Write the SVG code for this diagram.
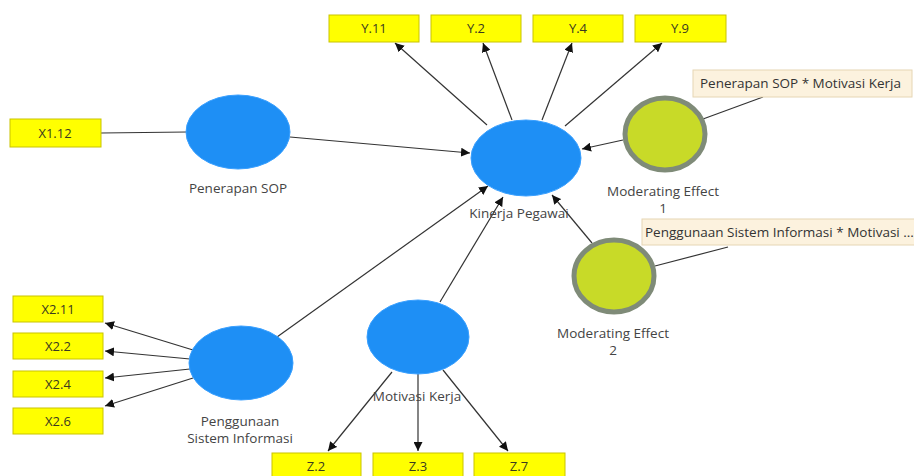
<svg xmlns="http://www.w3.org/2000/svg" width="914" height="476" viewBox="0 0 914 476">
<style>
.box{fill:#ffff00;stroke:#c9c400;stroke-width:1}
.bt{font-family:"Open Sans","Noto Sans",sans-serif;font-size:13px;fill:#3a3a20;text-anchor:middle}
.lv{fill:#1e8ff5;stroke:#3aa0ff;stroke-width:1}
.me{fill:#c8da28;stroke:#7f8b78;stroke-width:5}
.lb{font-family:"Open Sans","Noto Sans",sans-serif;font-size:13.5px;fill:#444;text-anchor:middle}
.tip{fill:#fcf2de;stroke:#e6d6b4;stroke-width:1}
.tt{font-family:"Open Sans","Noto Sans",sans-serif;font-size:13.5px;fill:#333}
.c{stroke:#333;stroke-width:1.2;fill:none}
.ca{stroke:#333;stroke-width:1.2;fill:none;marker-end:url(#ah)}
</style>
<defs>
<marker id="ah" viewBox="0 0 10 10" refX="10" refY="5" markerWidth="9" markerHeight="9" markerUnits="userSpaceOnUse" orient="auto">
<path d="M0,0 L10,5 L0,10 z" fill="#111"/>
</marker>
</defs>
<rect width="914" height="476" fill="#fff"/>
<g id="connectors">
<line class="c" x1="101" y1="133" x2="187" y2="132"/>
<line class="ca" x1="290" y1="137" x2="470" y2="153"/>
<line class="ca" x1="487" y1="125" x2="395" y2="43"/>
<line class="ca" x1="512" y1="120" x2="483" y2="43"/>
<line class="ca" x1="542" y1="120" x2="572" y2="43"/>
<line class="ca" x1="565" y1="126" x2="662" y2="43"/>
<line class="ca" x1="623" y1="140" x2="582" y2="149"/>
<line class="ca" x1="592" y1="243" x2="552" y2="195"/>
<line class="ca" x1="277" y1="337" x2="488" y2="186"/>
<line class="ca" x1="440" y1="302" x2="503" y2="197"/>
<line class="ca" x1="193" y1="350" x2="105" y2="323"/>
<line class="ca" x1="190" y1="359" x2="105" y2="351"/>
<line class="ca" x1="190" y1="369" x2="105" y2="378"/>
<line class="ca" x1="193" y1="378" x2="105" y2="406"/>
<line class="ca" x1="392" y1="372" x2="328" y2="451"/>
<line class="ca" x1="418" y1="374" x2="418" y2="451"/>
<line class="ca" x1="443" y1="370" x2="508" y2="451"/>
<line class="c" x1="763" y1="97" x2="703" y2="119"/>
<line class="c" x1="728" y1="247" x2="655" y2="266"/>
</g>
<g id="Y11"><rect class="box" x="329" y="15" width="90" height="27"/><text class="bt" x="374" y="33">Y.11</text></g>
<g id="Y2"><rect class="box" x="431" y="15" width="90" height="27"/><text class="bt" x="476" y="33">Y.2</text></g>
<g id="Y4"><rect class="box" x="533" y="15" width="90" height="27"/><text class="bt" x="578" y="33">Y.4</text></g>
<g id="Y9"><rect class="box" x="635" y="15" width="91" height="27"/><text class="bt" x="680" y="33">Y.9</text></g>
<g id="X112"><rect class="box" x="10" y="119" width="91" height="28"/><text class="bt" x="55" y="138">X1.12</text></g>
<g id="X211"><rect class="box" x="13" y="296" width="90" height="26"/><text class="bt" x="58" y="314">X2.11</text></g>
<g id="X22"><rect class="box" x="13" y="333" width="90" height="26"/><text class="bt" x="58" y="351">X2.2</text></g>
<g id="X24"><rect class="box" x="13" y="371" width="90" height="26"/><text class="bt" x="58" y="389">X2.4</text></g>
<g id="X26"><rect class="box" x="13" y="408" width="90" height="26"/><text class="bt" x="58" y="426">X2.6</text></g>
<g id="Z2"><rect class="box" x="272" y="453" width="89" height="30"/><text class="bt" x="316" y="471">Z.2</text></g>
<g id="Z3"><rect class="box" x="373" y="453" width="90" height="30"/><text class="bt" x="418" y="471">Z.3</text></g>
<g id="Z7"><rect class="box" x="474" y="453" width="91" height="30"/><text class="bt" x="519" y="471">Z.7</text></g>
<g id="PenerapanSOP"><ellipse class="lv" cx="238" cy="132" rx="52" ry="37"/><text class="lb" x="238" y="193">Penerapan SOP</text></g>
<g id="KinerjaPegawai"><ellipse class="lv" cx="526" cy="158" rx="55" ry="38"/><text class="lb" x="519" y="218">Kinerja Pegawai</text></g>
<g id="PenggunaanSI"><ellipse class="lv" cx="241" cy="363" rx="52" ry="37"/><text class="lb" x="240" y="426">Penggunaan</text><text class="lb" x="240" y="443">Sistem Informasi</text></g>
<g id="MotivasiKerja"><ellipse class="lv" cx="418" cy="337" rx="51" ry="37"/><text class="lb" x="417" y="401">Motivasi Kerja</text></g>
<g id="ME1"><ellipse class="me" cx="665" cy="134" rx="40" ry="36"/><text class="lb" x="663" y="196">Moderating Effect</text><text class="lb" x="663" y="213">1</text></g>
<g id="ME2"><ellipse class="me" cx="614" cy="276" rx="40" ry="36"/><text class="lb" x="613" y="338">Moderating Effect</text><text class="lb" x="613" y="355">2</text></g>
<g id="Tip1"><rect class="tip" x="693" y="70" width="219" height="27"/><text class="tt" x="700" y="88">Penerapan SOP * Motivasi Kerja</text></g>
<g id="Tip2"><rect class="tip" x="642" y="219" width="280" height="26"/><text class="tt" x="645" y="237">Penggunaan Sistem Informasi * Motivasi ...</text></g>
</svg>
